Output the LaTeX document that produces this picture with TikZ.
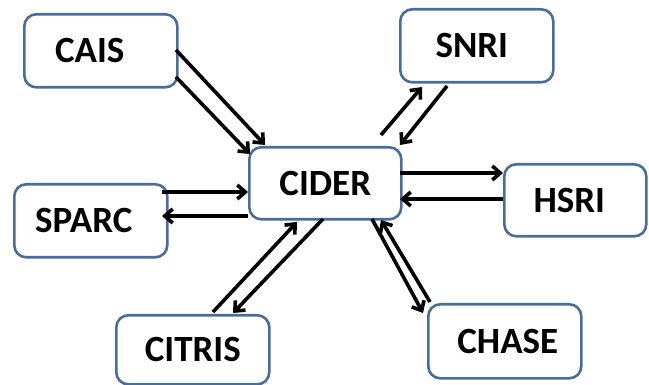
\documentclass[tikz,border=0pt]{standalone}
\usepackage{fontspec}
\setmainfont{Carlito}
\usetikzlibrary{calc,arrows.meta}
\definecolor{boxblue}{HTML}{4A6C98}
\tikzset{
  box/.style={draw=boxblue, line width=2.6pt, rounded corners=12pt, fill=white,
    minimum width=153pt, minimum height=73pt, inner sep=0pt,
    font=\fontsize{37}{42}\selectfont\bfseries, anchor=north west},
  arr/.style={draw=black, line width=3.6pt, -{Straight Barb[length=8pt,width=14pt]}}
}
\begin{document}
\begin{tikzpicture}[x=1pt,y=-1pt]
\useasboundingbox (0,0) rectangle (649,385);
\node[box] (cais) at (23,13) {\hspace*{-22pt}CAIS};
\node[box, minimum width=152pt, minimum height=72pt] (cider) at (248,146) {\raisebox{-3pt}{CIDER}};
\node[box] (snri) at (399,8) {\hspace*{-10pt}SNRI};
\node[box, minimum width=142pt, minimum height=72pt] (hsri) at (503,163) {\hspace*{-12pt}HSRI};
\node[box] (sparc) at (13,183) {\hspace*{-14pt}SPARC};
\node[box, minimum height=69pt] (citris) at (115,314) {CITRIS};
\node[box, minimum height=74pt] (chase) at (427,303) {\hspace*{6pt}CHASE};
% CAIS -> CIDER
\draw[arr] ($(cais.north west)+(153,37)$) -- ($(cider.north west)+(17,-1)$);
\draw[arr] ($(cais.north west)+(153,64)$) -- ($(cider.north west)+(2,8)$);
% SPARC <-> CIDER
\draw[arr] ($(sparc.north west)+(149,9)$) -- ($(cider.north west)+(0,46)$);
\draw[arr] ($(cider.north west)+(0,70)$) -- ($(sparc.north west)+(149,33)$);
% SNRI <-> CIDER
\draw[arr] ($(cider.north west)+(133,-11)$) -- ($(snri.north west)+(23,79)$);
\draw[arr] ($(snri.north west)+(48,78)$) -- ($(cider.north west)+(152,-1)$);
% HSRI <-> CIDER
\draw[arr] ($(cider.north west)+(152,27)$) -- ($(hsri.north west)+(0,10)$);
\draw[arr] ($(hsri.north west)+(0,36)$) -- ($(cider.north west)+(152,53)$);
% CITRIS <-> CIDER
\draw[arr] ($(citris.north west)+(98,-2)$) -- ($(cider.north west)+(49,76)$);
\draw[arr] ($(cider.north west)+(75,73)$) -- ($(citris.north west)+(118,-1)$);
% CHASE <-> CIDER
\draw[arr] ($(cider.north west)+(124,73)$) -- ($(chase.north west)+(-4,10)$);
\draw[arr] ($(chase.north west)+(3,-1)$) -- ($(cider.north west)+(133,74)$);
\end{tikzpicture}
\end{document}
